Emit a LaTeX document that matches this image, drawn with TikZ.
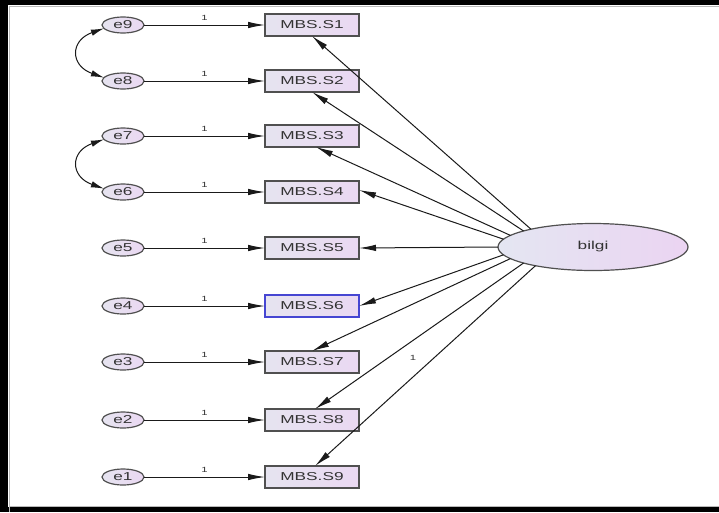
\documentclass[tikz,border=0pt]{standalone}
\usepackage{fontspec}
\setmainfont{Liberation Sans}
\newfontfamily\amosfont[FakeStretch=1.5]{Liberation Sans}
\usetikzlibrary{arrows.meta,shapes.geometric}
\definecolor{boxline}{HTML}{505050}
\definecolor{blueline}{HTML}{4646D2}
\definecolor{boxL}{HTML}{E6E4F0}
\definecolor{boxR}{HTML}{EAD8F2}
\definecolor{latL}{HTML}{E4E6F2}
\definecolor{latR}{HTML}{EBD4F2}
\definecolor{txt}{HTML}{333333}
\definecolor{lineC}{HTML}{1A1A1A}
\tikzset{
  obs/.style={rectangle, draw=boxline, line width=1.5pt, minimum width=94pt,
    minimum height=22pt, inner sep=0pt, outer sep=0pt, left color=boxL,
    right color=boxR, text=txt, font=\amosfont\fontsize{11.5}{13}\selectfont},
  err/.style={ellipse, draw=boxline, line width=1.2pt, minimum width=42pt,
    minimum height=16pt, inner sep=0pt, outer sep=0pt, left color=boxL,
    right color=boxR, text=txt, font=\amosfont\fontsize{11.5}{13}\selectfont},
  lat/.style={ellipse, draw=boxline, line width=1.2pt, minimum width=190pt,
    minimum height=47pt, inner sep=0pt, outer sep=0pt, left color=latL,
    right color=latR, text=txt, font=\amosfont\fontsize{11.5}{13}\selectfont},
  regpath/.style={draw=lineC, line width=1pt, -{Latex[length=17pt,width=6.5pt]}},
  covpath/.style={draw=lineC, line width=1pt,
    {Latex[length=13pt,width=6.5pt]}-{Latex[length=13pt,width=6.5pt]}},
  one/.style={text=txt, inner sep=0pt, font=\amosfont\fontsize{7.5}{8}\selectfont}
}
\begin{document}
\begin{tikzpicture}[x=1pt,y=-1pt]
\useasboundingbox (0,0) rectangle (719,512);
\fill[white] (0,0) rectangle (719,512);
% frame
\fill[black] (0,0) rectangle (719,5);
\fill[black] (0,0) rectangle (8,512);
\fill[black] (0,507) rectangle (719,512);
\draw[gray!55, line width=0.8pt] (9,512) -- (9,6) -- (719,6);
\draw[gray!55, line width=0.8pt] (9,506) -- (719,506);

\foreach \i/\y/\c in {1/25/boxline,2/81/boxline,3/136/boxline,4/192/boxline,
  5/248/boxline,6/306/blueline,7/362/boxline,8/420/boxline,9/477/boxline}{
  \pgfmathtruncatemacro\ee{10-\i}
  \node[err] (e\ee) at (123,\y) {e\ee};
  \node[obs, draw=\c] (s\i) at (312,\y) {MBS.S\i};
  \draw[regpath] (e\ee) -- node[one, above=4pt] (o\i) {1} (s\i);
}

\node[lat] (bilgi) at (593,247) {bilgi};

\draw[regpath] (bilgi.164) -- (s1.south);
\draw[regpath] (bilgi.167) -- (s2.south);
\draw[regpath] (bilgi.172) -- ([xshift=4pt]s3.south);
\draw[regpath] (bilgi.175) -- ([yshift=2pt]s4.east);
\draw[regpath] (bilgi.west) -- (s5.east);
\draw[regpath] (bilgi.185) -- (s6.east);
\draw[regpath] (bilgi.188) -- (s7.north);
\draw[regpath] (bilgi.193) -- ([xshift=3pt]s8.north);
\draw[regpath] (bilgi.198) -- ([xshift=3pt]s9.north);
\node[one] (l9) at (413,358) {1};

% covariances
\draw[covpath] (e9.190) .. controls +(-34,12) and +(-34,-12) .. (e8.170);
\draw[covpath] (e7.190) .. controls +(-34,12) and +(-34,-12) .. (e6.170);
\end{tikzpicture}
\end{document}
